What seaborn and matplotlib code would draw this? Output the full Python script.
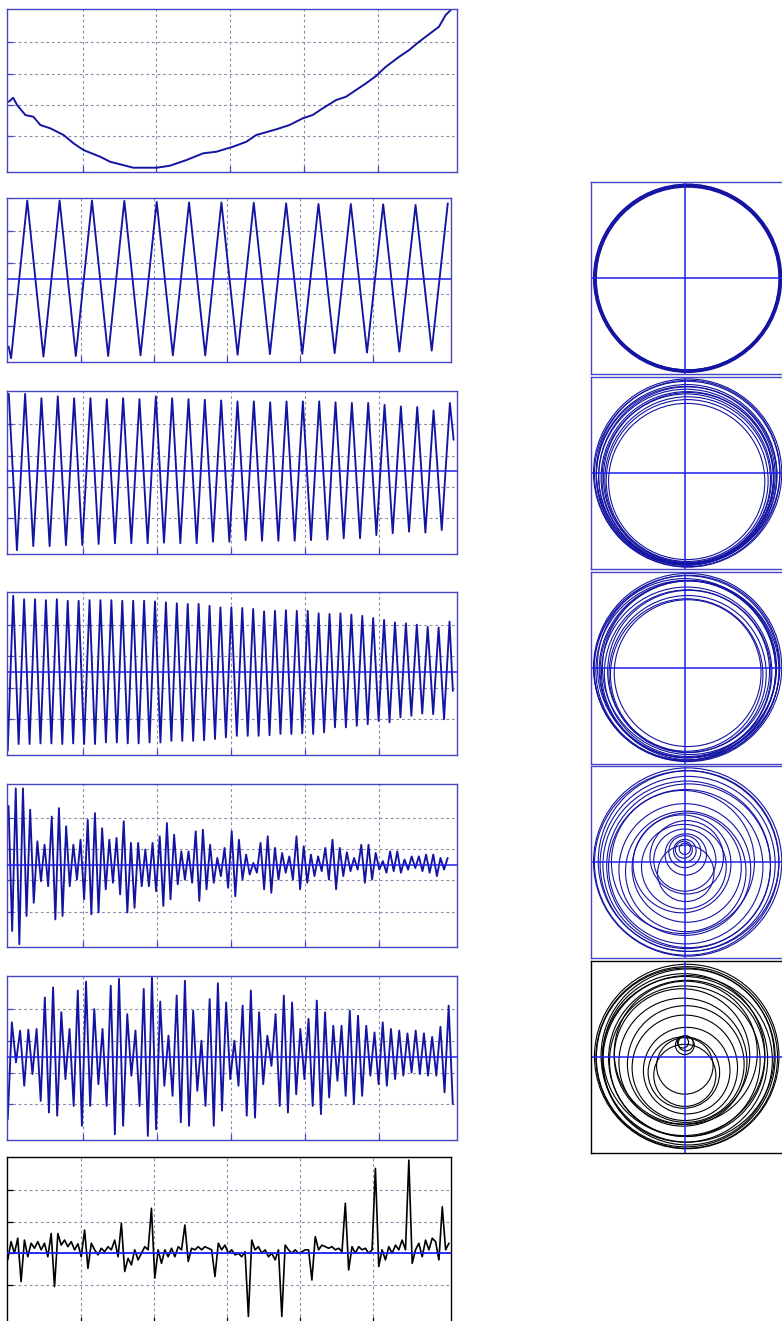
import numpy as np
import pandas as pd
import matplotlib
matplotlib.use("Agg")
import matplotlib.pyplot as plt
from matplotlib.patches import Circle
import seaborn as sns

# ---------------- data ----------------
# slow trend (time, value)
trend_t = [0.003, 0.062, 0.116, 0.228, 0.336, 0.430, 0.565, 0.744, 0.879, 1.013, 1.239,
           1.373, 1.687, 2.003, 2.182, 2.407, 2.631, 2.811, 3.035, 3.216, 3.350, 3.620,
           3.799, 3.978, 4.113, 4.248, 4.429, 4.563, 4.698, 4.833, 4.968, 5.102, 5.282,
           5.416, 5.551, 5.730, 5.820, 5.910, 5.978]
trend_v = [2.105, 2.233, 2.000, 1.680, 1.626, 1.361, 1.256, 1.042, 0.776, 0.562, 0.348,
           0.188, -0.003, -0.003, 0.061, 0.243, 0.457, 0.508, 0.668, 0.827, 1.042, 1.224,
           1.361, 1.575, 1.681, 1.895, 2.160, 2.265, 2.479, 2.693, 2.927, 3.224, 3.543,
           3.757, 4.022, 4.342, 4.502, 4.875, 5.035]

# mode 1: extrema (troughs first), time span of the extrema, edge samples
imf1_troughs = [-2.53, -2.48, -2.46, -2.46, -2.44, -2.44, -2.44, -2.42, -2.40, -2.39,
                -2.37, -2.35, -2.32, -2.29]
imf1_peaks = [2.48, 2.48, 2.48, 2.47, 2.44, 2.42, 2.42, 2.41, 2.39, 2.37, 2.37, 2.36, 2.34]
imf1_span = (0.035, 5.80)
imf1_head = (0.002, -2.16)
imf1_tail = (6.02, 2.39)

# mode 2 (peaks first)
imf2_peaks = [2.46, 2.46, 2.32, 2.38, 2.32, 2.32, 2.29, 2.32, 2.29, 2.38, 2.32, 2.29, 2.27,
              2.25, 2.22, 2.22, 2.19, 2.22, 2.22, 2.22, 2.19, 2.17, 2.17, 2.11, 2.06, 2.04,
              1.93, 2.17]
imf2_troughs = [-2.51, -2.38, -2.38, -2.35, -2.35, -2.31, -2.29, -2.29, -2.29, -2.27, -2.29,
                -2.29, -2.24, -2.24, -2.19, -2.21, -2.21, -2.21, -2.19, -2.17, -2.13, -2.13,
                -2.03, -1.97, -1.92, -1.95, -1.87]
imf2_span = (0.003, 5.96)
imf2_head = None
imf2_tail = (6.01, 1.00)

# mode 3 (troughs first)
imf3_troughs = [-2.50, -2.29, -2.29, -2.27, -2.27, -2.29, -2.27, -2.29, -2.29, -2.24, -2.24,
                -2.27, -2.27, -2.24, -2.24, -2.19, -2.19, -2.19, -2.17, -2.13, -2.08,
                -2.03, -2.03, -2.03, -2.01, -1.97, -1.97, -1.95, -1.97, -1.92, -1.76,
                -1.76, -1.71, -1.66, -1.55, -1.60, -1.44, -1.39, -1.32, -1.34, -1.50]
imf3_peaks = [2.43, 2.32, 2.32, 2.29, 2.32, 2.27, 2.27, 2.29, 2.29, 2.29, 2.27, 2.27, 2.27,
              2.25, 2.22, 2.19, 2.17, 2.17, 2.11, 2.06, 2.06, 2.04, 2.01, 1.93, 1.95, 1.97,
              1.95, 1.95, 1.87, 1.85, 1.87, 1.83, 1.79, 1.72, 1.66, 1.58, 1.55, 1.51, 1.44,
              1.42, 1.61]
imf3_span = (-0.011, 5.955)
imf3_head = None
imf3_tail = (6.00, -0.60)

# mode 4 (peaks first)
imf4_peaks = [1.87, 2.43, 2.43, 1.75, 0.74, 0.63, 1.53, 1.80, 1.22, 0.63, 0.79, 1.43, 1.64,
              1.16, 0.79, 0.85, 1.38, 0.69, 0.69, 0.48, 0.69, 0.90, 1.32, 0.95, 0.42, 0.42,
              1.06, 1.11, 0.63, 0.21, 0.53, 1.06, 0.79, 0.32, 0.05, 0.69, 0.90, 0.53, 0.37,
              0.26, 0.90, 0.58, 0.32, 0.26, 0.53, 0.79, 0.53, 0.39, 0.21, 0.63, 0.63, 0.37,
              0.11, 0.42, 0.42, 0.16, 0.26, 0.26, 0.32, 0.32, 0.21, 0.21]
imf4_troughs = [-2.12, -2.54, -1.64, -1.22, -0.53, -0.69, -1.75, -1.64, -0.69, -0.48, -1.11,
                -1.59, -1.53, -0.79, -0.58, -0.95, -1.53, -1.38, -0.69, -0.69, -0.85, -1.32,
                -1.11, -0.63, -0.48, -0.58, -1.16, -0.79, -0.58, -0.37, -0.74, -1.01, -0.48,
                -0.32, -0.26, -0.79, -0.90, -0.48, -0.26, -0.48, -0.79, -0.58, -0.37, -0.21,
                -0.48, -0.79, -0.37, -0.21, -0.16, -0.58, -0.48, -0.16, -0.26, -0.21, -0.26,
                -0.16, -0.11, -0.21, -0.26, -0.37, -0.16]
imf4_span = (0.0, 5.93)
imf4_head = None
imf4_tail = None

# mode 5 (troughs first)
imf5_troughs = [-1.98, -0.18, -0.92, -0.55, -1.40, -1.77, -1.87, -0.71, -1.56, -2.19, -1.56,
                -0.87, -1.56, -2.46, -2.19, -0.60, -1.56, -2.51, -2.30, -0.92, -1.24, -2.08,
                -2.19, -1.08, -1.56, -2.19, -1.71, -0.71, -0.92, -1.87, -1.93, -0.87, -0.29,
                -1.56, -1.77, -1.19, -0.71, -1.56, -1.82, -1.29, -0.76, -1.24, -1.50, -1.24,
                -0.60, -0.87, -0.92, -0.71, -0.60, -0.50, -0.55, -0.60, -0.60, -1.13, -1.50]
imf5_peaks = [1.09, 0.83, 0.86, 0.88, 1.88, 2.20, 1.41, 0.88, 2.10, 2.38, 1.51, 0.88, 2.25,
              2.47, 1.35, 0.83, 2.15, 2.52, 1.75, 0.67, 1.94, 2.41, 1.46, 0.51, 1.83, 2.33,
              1.72, 0.51, 1.62, 2.10, 1.41, 0.67, 1.35, 1.94, 1.72, 0.88, 1.20, 1.78, 1.41,
              0.98, 0.98, 1.46, 1.30, 0.98, 0.77, 1.09, 0.88, 0.83, 0.74, 0.83, 0.74, 0.63,
              0.95, 1.62]
imf5_span = (-0.011, 5.999)
imf5_head = None
imf5_tail = None

# residual noise, evenly sampled
resid_span = (-0.011, 6.036)
resid_v = [-0.21, 0.37, 0.00, 0.48, -0.90, 0.42, -0.11, 0.32, 0.16, 0.37, 0.11, 0.32, -0.11,
           0.63, -1.06, 0.63, 0.26, 0.42, 0.21, 0.37, 0.11, 0.30, -0.11, 0.74, -0.48, 0.32,
           0.11, -0.05, 0.16, 0.05, 0.21, 0.11, 0.42, -0.11, 0.95, -0.58, -0.16, -0.37, 0.11,
           -0.21, 0.00, 0.21, 0.11, 1.43, -0.79, 0.11, -0.32, 0.11, -0.11, 0.16, -0.11, 0.21,
           0.11, 0.90, -0.26, 0.16, 0.11, 0.21, 0.11, 0.21, 0.16, 0.11, -0.74, 0.32, 0.11,
           0.26, 0.00, 0.11, -0.05, 0.00, -0.11, 0.05, -2.01, 0.42, 0.11, 0.21, 0.00, 0.11,
           -0.11, 0.00, -0.21, 0.11, -2.01, 0.26, 0.11, 0.00, 0.11, 0.00, 0.05, 0.11, 0.11,
           -0.85, 0.53, 0.11, 0.26, 0.21, 0.16, 0.21, 0.11, 0.16, 0.05, 1.59, -0.53, 0.21,
           0.00, 0.21, 0.11, 0.16, 0.00, 0.11, 2.70, -0.42, 0.11, -0.21, 0.21, 0.00, 0.26,
           0.11, 0.42, 0.11, 2.96, -0.32, 0.11, 0.32, -0.11, 0.42, 0.11, 0.48, 0.37, -0.21,
           1.48, 0.11, 0.32]

# phase portraits: loops as (centre x, centre y, radius)
ring1_cx = [0.030, 0.028, 0.032, 0.030, 0.027, 0.031, 0.029, 0.030]
ring1_cy = [0.000, 0.004, -0.003, 0.002, -0.004, 0.003, 0.000, -0.002]
ring1_r = [1.000, 0.995, 0.990, 0.986, 0.982, 0.978, 0.974, 0.970]

ring2_cx = [0.030, 0.025, 0.035, 0.020, 0.030, 0.015, 0.025, 0.020, 0.030, 0.025, 0.020, 0.010, 0.040]
ring2_cy = [0.000, -0.010, 0.010, -0.020, -0.030, -0.040, -0.050, -0.060, -0.070, -0.080, -0.090, -0.030, -0.050]
ring2_r = [1.000, 0.985, 0.975, 0.960, 0.945, 0.930, 0.915, 0.900, 0.880, 0.860, 0.830, 0.950, 0.905]

ring3_cx = [0.030, 0.020, 0.040, 0.010, 0.030, 0.050, 0.020, 0.030, 0.040, 0.030, 0.020, 0.030, 0.000, 0.050]
ring3_cy = [0.000, -0.010, 0.010, -0.030, -0.020, 0.000, -0.050, -0.060, -0.040, -0.070, -0.080, -0.060, -0.020, -0.030]
ring3_r = [1.000, 0.985, 0.970, 0.955, 0.940, 0.925, 0.905, 0.885, 0.860, 0.835, 0.810, 0.780, 0.965, 0.950]

ring4_cx = [0.030, 0.020, 0.040, 0.030, 0.020, 0.010, 0.000, 0.020, -0.010, 0.000, 0.010,
            0.000, 0.000, 0.040, -0.020, 0.010, -0.030, 0.020, 0.000, 0.010, -0.010]
ring4_cy = [0.000, -0.010, 0.010, -0.020, -0.030, -0.050, -0.080, -0.060, -0.050, 0.020,
            0.080, 0.120, 0.140, -0.040, 0.000, -0.100, -0.020, 0.050, 0.110, -0.120, 0.130]
ring4_r = [1.000, 0.980, 0.960, 0.930, 0.890, 0.820, 0.700, 0.580, 0.450, 0.330, 0.220,
           0.120, 0.060, 0.870, 0.760, 0.640, 0.520, 0.390, 0.170, 0.300, 0.090]

ring5_cx = [0.020, 0.010, 0.030, 0.000, 0.020, 0.010, -0.020, 0.000, 0.020, -0.010, 0.000,
            0.000, -0.020, 0.030, -0.010, 0.010, 0.000, -0.030, 0.010, 0.020, 0.000]
ring5_cy = [0.000, -0.010, 0.010, -0.030, -0.020, 0.040, -0.060, -0.120, -0.150, -0.170,
            -0.100, 0.120, 0.150, -0.040, 0.020, -0.080, -0.200, 0.000, 0.140, -0.010, -0.050]
ring5_r = [0.980, 0.950, 0.920, 0.880, 0.830, 0.760, 0.680, 0.560, 0.460, 0.380, 0.300,
           0.100, 0.060, 0.900, 0.860, 0.620, 0.330, 0.720, 0.080, 0.965, 0.800]


def interleave(first, second):
    out = []
    for i in range(max(len(first), len(second))):
        if i < len(first):
            out.append(first[i])
        if i < len(second):
            out.append(second[i])
    return out


def mode_frame(first, second, span, head=None, tail=None):
    vals = interleave(first, second)
    t = list(np.linspace(span[0], span[1], len(vals)))
    if head is not None:
        t = [head[0]] + t
        vals = [head[1]] + vals
    if tail is not None:
        t = t + [tail[0]]
        vals = vals + [tail[1]]
    return pd.DataFrame({"t": t, "v": vals})


# ---------------- figure ----------------
sns.set_theme(style="white")
plt.rcParams["font.family"] = ["DejaVu Sans"]

FW, FH = 782, 1321
fig = plt.figure(figsize=(FW / 100, FH / 100), dpi=100)

LINE = "#1414a2"
FRAME = "#4646c4"
ZERO = "#1e1ef0"
GRID = "#8c8caa"


def px_axes(left, top, right, bottom):
    return fig.add_axes([left / FW, 1 - bottom / FH, (right - left) / FW, (bottom - top) / FH])


def style_trace(ax, ylim, yticks, frame=FRAME):
    ax.set_xlim(-0.025, 6.06)
    ax.set_ylim(*ylim)
    ax.set_xticks([1, 2, 3, 4, 5])
    ax.set_yticks(yticks)
    ax.set_xticklabels([])
    ax.set_yticklabels([])
    ax.set_xlabel("")
    ax.set_ylabel("")
    ax.grid(True, linestyle=(0, (2.5, 2.5)), color=GRID, linewidth=0.8)
    ax.tick_params(direction="in", length=4, width=0.9, colors=frame,
                   left=True, bottom=True, top=False, right=False)
    for s in ax.spines.values():
        s.set_color(frame)
        s.set_linewidth(1.0)


MODE_YLIM = (-2.64, 2.56)
MODE_TICKS = [-1.5, -0.5, 0.5, 1.5]

# trend
ax = px_axes(6.7, 9.3, 456.7, 172.0)
sns.lineplot(data=pd.DataFrame({"t": trend_t, "v": trend_v}), x="t", y="v", ax=ax,
             color=LINE, linewidth=1.4, sort=False, estimator=None)
style_trace(ax, (-0.14, 5.06), [1, 2, 3, 4])

modes = [
    ((6.7, 198.0, 450.7, 361.7), imf1_troughs, imf1_peaks, imf1_span, imf1_head, imf1_tail),
    ((6.7, 390.7, 457.3, 554.3), imf2_peaks, imf2_troughs, imf2_span, imf2_head, imf2_tail),
    ((6.7, 591.7, 457.3, 755.0), imf3_troughs, imf3_peaks, imf3_span, imf3_head, imf3_tail),
    ((6.7, 784.3, 457.3, 947.3), imf4_peaks, imf4_troughs, imf4_span, imf4_head, imf4_tail),
    ((6.7, 976.0, 457.3, 1140.0), imf5_troughs, imf5_peaks, imf5_span, imf5_head, imf5_tail),
]
for box, first, second, span, head, tail in modes:
    ax = px_axes(*box)
    df = mode_frame(first, second, span, head, tail)
    sns.lineplot(data=df, x="t", y="v", ax=ax, color=LINE, linewidth=1.35,
                 sort=False, estimator=None)
    ax.axhline(0, color=ZERO, linewidth=1.1, zorder=3)
    style_trace(ax, MODE_YLIM, MODE_TICKS)

# residual
ax = px_axes(6.7, 1156.7, 450.7, 1322.5)
df = pd.DataFrame({"t": np.linspace(resid_span[0], resid_span[1], len(resid_v)), "v": resid_v})
sns.lineplot(data=df, x="t", y="v", ax=ax, color="black", linewidth=1.2,
             sort=False, estimator=None)
ax.axhline(0, color=ZERO, linewidth=1.3, zorder=3)
style_trace(ax, (-2.2, 3.07), [-1, 0, 1, 2], frame="black")

# phase portraits
rings = [
    (182.3, ring1_cx, ring1_cy, ring1_r, LINE, FRAME),
    (377.0, ring2_cx, ring2_cy, ring2_r, LINE, FRAME),
    (571.5, ring3_cx, ring3_cy, ring3_r, LINE, FRAME),
    (766.0, ring4_cx, ring4_cy, ring4_r, LINE, FRAME),
    (960.5, ring5_cx, ring5_cy, ring5_r, "black", "black"),
]
for top, cx, cy, rr, col, frame in rings:
    ax = px_axes(590.7, top, 590.7 + 192, top + 192)
    ax.set_xlim(-1.0, 1.04)
    ax.set_ylim(-1.02, 1.02)
    for x0, y0, r in zip(cx, cy, rr):
        ax.add_patch(Circle((x0, y0), r, fill=False, edgecolor=col, linewidth=0.8))
    ax.axhline(0, color=ZERO, linewidth=1.1)
    ax.axvline(0, color=ZERO, linewidth=1.1)
    ax.set_xticks([])
    ax.set_yticks([])
    for s in ax.spines.values():
        s.set_color(frame)
        s.set_linewidth(1.0)

fig.savefig("out.png", dpi=100)
